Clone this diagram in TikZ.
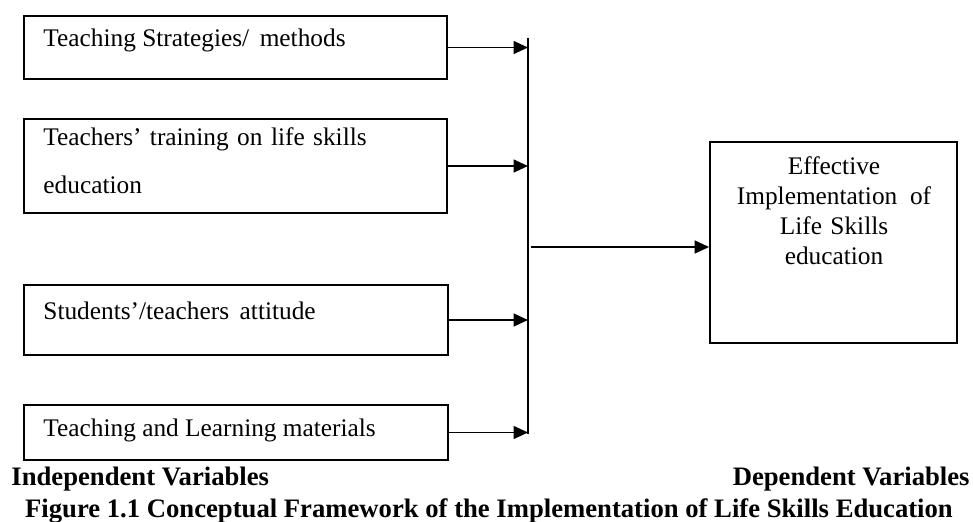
\documentclass[tikz,border=0pt]{standalone}
\usepackage{fontspec}
\setmainfont{Liberation Serif}
\usetikzlibrary{arrows.meta,fit}

\tikzset{
  varbox/.style={draw, line width=0.8pt, inner sep=0pt},
  vartext/.style={anchor=base west, inner sep=0pt, font=\fontsize{11.4}{21.6}\selectfont},
  feed/.style={-{Triangle[length=6.5pt,width=5.8pt]}, line width=0.8pt},
  heading/.style={inner sep=0pt, font=\fontsize{12}{14}\selectfont\bfseries}
}

\begin{document}
\begin{tikzpicture}[x=0.45pt, y=-0.45pt]
\useasboundingbox (0,0) rectangle (973,522);

% independent variables
\node[varbox, fit={(24,16) (447,79)}] (strat) {};
\node[varbox, fit={(24,119) (447,213)}] (train) {};
\node[varbox, fit={(24,285) (448,355)}] (att) {};
\node[varbox, fit={(24,405) (448,460)}] (mat) {};

\node[vartext] (strat-t) at (43,47) {Teaching Strategies/ \,methods};
\node[vartext, text width=180pt, align=left] (train-t) at (43,145.5) {Teachers’ training on life skills\\education};
\node[vartext] (att-t) at (43,319) {Students’/teachers \,attitude};
\node[vartext] (mat-t) at (43,436.5) {Teaching and Learning materials};

% dependent variable
\node[varbox, fit={(710,142) (957,343)}] (eff) {};
\node[inner sep=0pt, anchor=base, text width=108pt, align=center,
      font=\fontsize{11.4}{13.5}\selectfont] (eff-t) at (834,174)
  {Effective\\Implementation \,of\\Life Skills\\education};

% collecting line
\coordinate (bustop) at (528,38);
\coordinate (busbot) at (528,434);
\coordinate (busmid) at (531,247);
\draw[line width=0.8pt] (bustop) -- (busbot);

\draw[feed] (strat.east) -- (strat.east -| bustop);
\draw[feed] (train.east) -- (train.east -| bustop);
\draw[feed] (att.east) -- (att.east -| bustop);
\draw[feed] (mat.east) -- (mat.east -| bustop);
\draw[feed] (busmid) -- (eff.west |- busmid);

% headings
\node[heading, anchor=base west] (indep) at (11,485.5) {Independent Variables};
\node[heading, anchor=base east] (dep) at (970,485.5) {Dependent Variables};
\node[heading, anchor=base] (caption) at (489,517)
  {Figure 1.1 Conceptual Framework of the Implementation of Life Skills Education};

\end{tikzpicture}
\end{document}
